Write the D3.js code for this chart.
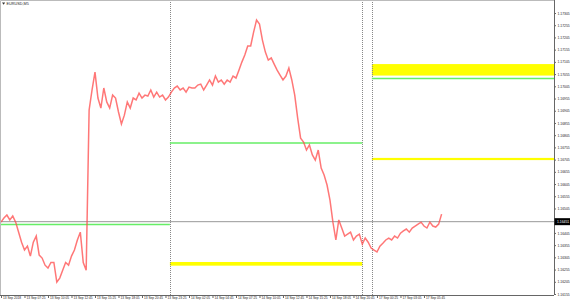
<!DOCTYPE html>
<html><head><meta charset="utf-8">
<script src="https://cdn.jsdelivr.net/npm/d3@7"></script>
<style>html,body{margin:0;padding:0;background:#fff;}svg{display:block;}</style>
</head><body>
<svg id="c" width="570" height="303"></svg>
<script>
// ---- data ----
const title = "EURUSD,M5";
const barsPerSample = 4; // each value below is one sample every 4 M5 bars
const prices = [
1.16449,1.16466,1.16478,1.16458,1.16474,1.16449,1.16408,1.16367,1.16335,1.16351,
1.16310,1.16367,1.16392,1.16314,1.16302,1.16273,1.16261,1.16284,1.16284,1.16204,
1.16220,1.16252,1.16284,1.16273,1.16310,1.16335,1.16376,1.16408,1.16284,1.16252,
1.16908,1.16990,1.17063,1.16957,1.16916,1.16998,1.16941,1.16916,1.16969,1.16957,
1.16900,1.16851,1.16887,1.16941,1.16916,1.16957,1.16949,1.16977,1.16957,1.16969,
1.16965,1.16990,1.16961,1.16981,1.16961,1.16969,1.16949,1.16961,1.16981,1.16998,
1.17006,1.16990,1.16998,1.16981,1.17002,1.16998,1.16998,1.17010,1.17014,1.16990,
1.17010,1.17031,1.17010,1.17047,1.17022,1.17031,1.17014,1.17031,1.17022,1.17047,
1.17039,1.17071,1.17104,1.17133,1.17170,1.17170,1.17227,1.17276,1.17260,1.17194,
1.17145,1.17112,1.17121,1.17096,1.17071,1.17051,1.17031,1.17047,1.17080,1.17031,
1.16969,1.16875,1.16793,1.16777,1.16744,1.16765,1.16724,1.16703,1.16744,1.16670,
1.16642,1.16601,1.16539,1.16449,1.16376,1.16458,1.16425,1.16392,1.16400,1.16408,
1.16376,1.16392,1.16400,1.16359,1.16384,1.16367,1.16343,1.16335,1.16327,1.16351,
1.16363,1.16376,1.16384,1.16376,1.16392,1.16384,1.16404,1.16413,1.16421,1.16408,
1.16425,1.16433,1.16441,1.16449,1.16433,1.16425,1.16449,1.16433,1.16429,1.16441,
1.16482
];
const bidPrice = 1.16451;
const yTickValues = [1.17305,1.17255,1.17205,1.17155,1.17105,1.17055,1.17005,1.16955,
  1.16905,1.16855,1.16805,1.16755,1.16705,1.16655,1.16605,1.16555,1.16505,1.16455,
  1.16405,1.16355,1.16305,1.16255,1.16205,1.16155];
const xTickBars = [0,32,64,96,128,160,192,224,256,288,320,352,384,416,448,480,512,544,576];
const xTickLabels = ["13 Sep 2018","13 Sep 07:25","13 Sep 10:05","13 Sep 12:45","13 Sep 15:25",
  "13 Sep 18:05","13 Sep 20:45","13 Sep 23:25","14 Sep 02:05","14 Sep 04:45","14 Sep 07:25",
  "14 Sep 10:05","14 Sep 12:45","14 Sep 15:25","14 Sep 18:05","14 Sep 20:45","17 Sep 00:25",
  "17 Sep 03:05","17 Sep 05:45"];
const separatorBars = [230, 492, 505];
// horizontal levels: [startBar, endBar, price]
const greenLevels = [[-2, 230, 1.16439],[230, 492, 1.16773],[505, 760, 1.17037]];
// zones: [startBar, endBar, topPrice, bottomPrice]
const yellowZones = [[230, 492, 1.16286, 1.16271],[505, 760, 1.17096, 1.17049],[505, 760, 1.16712, 1.16703]];

// ---- drawing ----
const svg = d3.select("#c");
const L = 0, R = 554, T = 0, B = 295;
const x = d3.scaleLinear().domain([0, 600]).range([1, 441.6]);
const y = d3.scaleLinear().domain([1.16155, 1.17305]).range([294, 13]);
const font = "'Liberation Sans', Arial, sans-serif";

const plot = svg.append("g");
plot.append("defs").append("clipPath").attr("id","clip")
  .append("rect").attr("x",L).attr("y",T).attr("width",R-L).attr("height",B-T);
const g = plot.append("g").attr("clip-path","url(#clip)");

// yellow zones
g.selectAll("rect.zone").data(yellowZones).join("rect").attr("class","zone")
  .attr("x", d => x(d[0])).attr("width", d => x(d[1]) - x(d[0]))
  .attr("y", d => y(d[2])).attr("height", d => y(d[3]) - y(d[2]))
  .attr("fill", "#ffff00");

// period separators
g.selectAll("line.sep").data(separatorBars).join("line").attr("class","sep")
  .attr("x1", d => Math.round(x(d))+0.5).attr("x2", d => Math.round(x(d))+0.5)
  .attr("y1", T).attr("y2", B)
  .attr("stroke", "#888").attr("stroke-width", 1).attr("stroke-dasharray", "1,1");

// green levels
g.selectAll("line.lvl").data(greenLevels).join("line").attr("class","lvl")
  .attr("x1", d => x(d[0])).attr("x2", d => x(d[1]))
  .attr("y1", d => y(d[2])).attr("y2", d => y(d[2]))
  .attr("stroke", "#66ee66").attr("stroke-width", 1.5);

// bid line
g.append("line").attr("x1", L).attr("x2", R)
  .attr("y1", y(bidPrice)).attr("y2", y(bidPrice))
  .attr("stroke", "#999").attr("stroke-width", 1);

// price line
const line = d3.line().x((d,i) => x(i*barsPerSample)).y(d => y(d));
g.append("path").datum(prices).attr("d", line)
  .attr("fill","none").attr("stroke","#ff4a4a").attr("stroke-opacity",0.75)
  .attr("stroke-width",1.5).attr("stroke-linejoin","miter");

// frame
svg.append("path").attr("d", `M${L+0.5},${B}V${T+0.5}H${R}`)
  .attr("fill","none").attr("stroke","#bbb");

// y axis
const yAxis = d3.axisRight(y).tickValues(yTickValues.filter(v => Math.abs(y(v)-y(bidPrice))>4))
  .tickFormat(d3.format(".5f")).tickSize(2).tickPadding(1.5);
const ya = svg.append("g").attr("transform",`translate(${R},0)`).call(yAxis);
ya.select(".domain").attr("d", `M0.5,${T}V${B}`).attr("stroke","#666");
ya.selectAll(".tick line").attr("stroke","#666");
ya.selectAll("text").attr("font-family",font).attr("font-size",3.4).attr("fill","#222");

// x axis
const xAxis = d3.axisBottom(x).tickValues(xTickBars).tickSize(3)
  .tickFormat((d,i) => xTickLabels[i]);
const xa = svg.append("g").attr("transform",`translate(0,${B})`).call(xAxis);
xa.select(".domain").attr("d", `M${L},0.5H${R}`).attr("stroke","#666");
xa.selectAll(".tick line").attr("stroke","#666");
xa.selectAll("text").attr("font-family",font).attr("font-size",3.2).attr("fill","#222")
  .attr("text-anchor","start").attr("x",1.5).attr("y",1.5).attr("dy","0.71em");

// bid label
const bl = svg.append("g").attr("transform",`translate(${R},${y(bidPrice)})`);
bl.append("rect").attr("x",0.5).attr("y",-3.5).attr("width",15.5).attr("height",7).attr("fill","#000");
bl.append("text").attr("x",3).attr("y",0).attr("dy","0.35em").attr("font-family",font)
  .attr("font-size",3.4).attr("fill","#fff").text(d3.format(".5f")(bidPrice));

// title
svg.append("path").attr("d","M2,2.5h3.2l-1.6,2.2z").attr("fill","#333");
svg.append("text").attr("x",6.5).attr("y",3.6).attr("dy","0.35em").attr("font-family",font)
  .attr("font-size",3.8).attr("fill","#222").text(title);
</script>
</body></html>
